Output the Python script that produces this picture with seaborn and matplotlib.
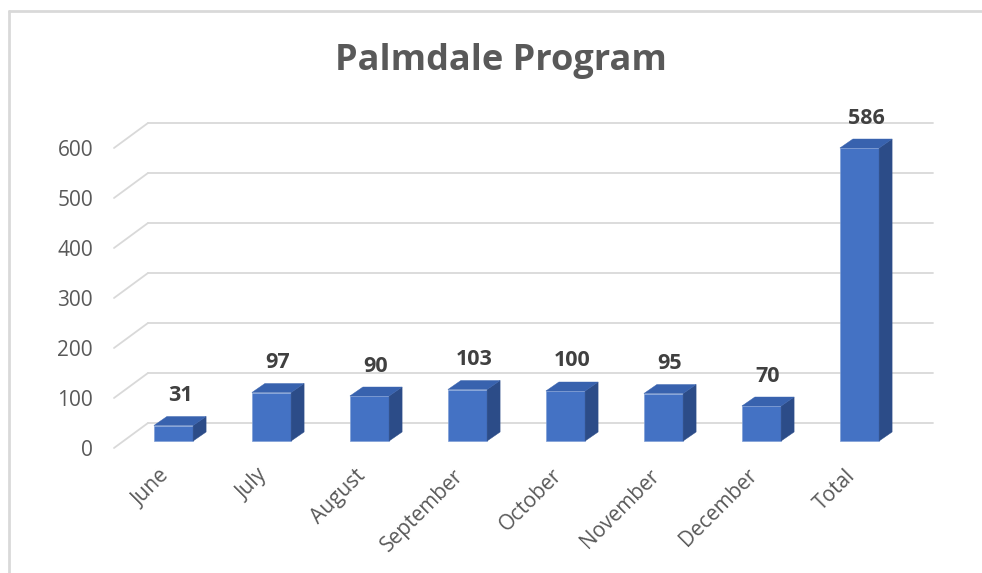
import matplotlib
matplotlib.use("Agg")
import matplotlib.pyplot as plt
import matplotlib.transforms as mtransforms
from matplotlib.patches import Polygon
import seaborn as sns

# chart data
months = ["June", "July", "August", "September", "October", "November", "December", "Total"]
counts = [31, 97, 90, 103, 100, 95, 70, 586]
yticks = [0, 100, 200, 300, 400, 500, 600]

front_color = "#4472C4"
top_color = "#3862AE"
side_color = "#2C4C88"
grid_color = "#D9D9D9"
text_color = "#595959"

sns.set_style("white")
plt.rcParams["font.family"] = ["Open Sans", "DejaVu Sans"]

fig = plt.figure(figsize=(9.82, 5.73), dpi=100)
W, H = 982, 573
# axes placed in pixel terms: left 100, right 950, top 100, bottom 460
ax = fig.add_axes([100 / W, (H - 460) / H, 850 / W, 360 / H])

px_cat = 98.0   # pixels per category
px_val = 0.5    # pixels per value unit

# perspective offsets (data units)
lift = 7 / px_val            # bars sit a little behind the front floor edge
gdx, gdy = 34 / px_cat, 25 / px_val
bdx, bdy = 13 / px_cat, 9 / px_val
x_front = (114 - 173.5) / px_cat
x_back_end = (933 - 173.5) / px_cat

# walls / gridlines
for v in yticks:
    yf = v - lift
    ax.plot([x_front, x_front + gdx], [yf, yf + gdy], color=grid_color, lw=1.3, zorder=0)
    ax.plot([x_front + gdx, x_back_end], [yf + gdy, yf + gdy], color=grid_color, lw=1.3, zorder=0)

sns.barplot(x=months, y=counts, color=front_color, saturation=1, width=0.4,
            edgecolor="#7F9FD6", linewidth=0.5, ax=ax, zorder=3)

for p, v in zip(ax.patches, counts):
    x, w, h = p.get_x(), p.get_width(), p.get_height()
    side = Polygon([(x + w, 0), (x + w + bdx, bdy), (x + w + bdx, h + bdy), (x + w, h)],
                   closed=True, facecolor=side_color, edgecolor=side_color, lw=0.3, zorder=3)
    top = Polygon([(x, h), (x + bdx, h + bdy), (x + w + bdx, h + bdy), (x + w, h)],
                  closed=True, facecolor=top_color, edgecolor=top_color, lw=0.3, zorder=3)
    ax.add_patch(side)
    ax.add_patch(top)
    ax.text(x + w / 2 + bdx / 2, h + bdy + 21 / px_val, str(v), ha="center", va="center",
            fontsize=15.5, fontweight="bold", color="#404040")

# seaborn resets the limits, so set them afterwards
ax.set_xlim((100 - 173.5) / px_cat, (950 - 173.5) / px_cat)
ax.set_ylim((441 - 460) / px_val, (441 - 100) / px_val)

ax.set_yticks([v - lift for v in yticks])
ax.set_yticklabels([str(v) for v in yticks])
ax.tick_params(axis="y", length=0, pad=5, labelsize=15, labelcolor=text_color)
ax.tick_params(axis="x", length=0, pad=9, labelsize=15, labelcolor=text_color)
shift = mtransforms.ScaledTranslation(-7 / 100, 0, fig.dpi_scale_trans)
for lab in ax.get_xticklabels():
    lab.set_rotation(45)
    lab.set_ha("right")
    lab.set_va("center")
    lab.set_rotation_mode("anchor")
    lab.set_transform(lab.get_transform() + shift)

ax.set_xlabel("")
ax.set_ylabel("")
sns.despine(ax=ax, left=True, bottom=True)
ax.patch.set_alpha(0)

fig.text(501 / W, 1 - 61 / H, "Palmdale Program", ha="center", va="center",
         fontsize=26, fontweight="bold", color=text_color)

# outer chart border (left and top only visible)
fig.add_artist(plt.Line2D([8.5 / W, 8.5 / W], [0, 1 - 11 / H], color=grid_color, lw=2))
fig.add_artist(plt.Line2D([8.5 / W, 1], [1 - 11 / H, 1 - 11 / H], color=grid_color, lw=2))

fig.savefig("out.png", dpi=100)
